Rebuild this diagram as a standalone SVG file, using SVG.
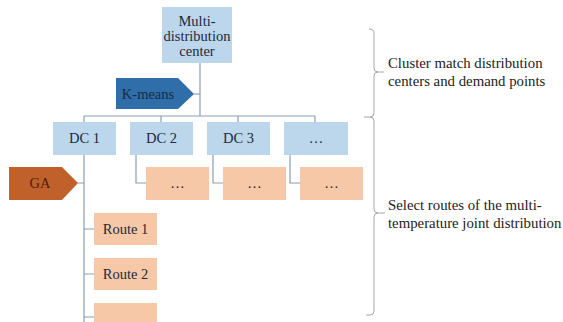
<svg xmlns="http://www.w3.org/2000/svg" width="563" height="322" viewBox="0 0 563 322">
<style>
.blue{fill:#bcd6ec}
.org{fill:#f7c8a8}
.t{font-family:'Liberation Serif','Times New Roman','DejaVu Serif',serif;font-size:14.5px;fill:#1c2a3a;text-anchor:middle}
.lbl{font-family:'Liberation Serif','Times New Roman','DejaVu Serif',serif;font-size:14.8px;fill:#222}
.c{fill:none;stroke:#8a9fb4;stroke-width:1.2}
.b{fill:none;stroke:#a8a8a8;stroke-width:1}
</style>
<rect width="563" height="322" fill="#ffffff"/>
<g id="connectors">
<path class="c" d="M200 63V116M84 116H315M84 116V122M161 116V122M238 116V122M315 116V122"/>
<path class="c" d="M194 94H200"/>
<path class="c" d="M136 155V183H146M213 155V183H223M290 155V183H300"/>
<path class="c" d="M84 155V322M78 183H84M84 229H94M84 274H94M84 317H94"/>
</g>
<g id="braces">
<path class="b" d="M369 29Q374 29 374 33V68Q374 72 378 72H384M378 72Q374 72 374 76V113Q374 117 370 117H364"/>
<path class="b" d="M370 117Q374 117 374 121V209Q374 213 378 213H385M378 213Q374 213 374 217V311Q374 315 370 315H366"/>
</g>
<g id="n_multi">
<rect class="blue" x="162" y="7" width="70" height="56"/>
<text class="t" x="197" y="26">Multi-</text>
<text class="t" x="197" y="41">distribution</text>
<text class="t" x="197" y="56">center</text>
</g>
<g id="n_kmeans">
<polygon points="116,78 178,78 194,94 178,109 116,109" fill="#2f6ea8"/>
<text class="t" x="148" y="99" style="fill:#1a2a44">K-means</text>
</g>
<g id="n_dc1"><rect class="blue" x="53" y="122" width="63" height="33"/><text class="t" x="84.5" y="143">DC 1</text></g>
<g id="n_dc2"><rect class="blue" x="130" y="122" width="63" height="33"/><text class="t" x="161.5" y="143">DC 2</text></g>
<g id="n_dc3"><rect class="blue" x="207" y="122" width="63" height="33"/><text class="t" x="238.5" y="143">DC 3</text></g>
<g id="n_dc4"><rect class="blue" x="284" y="122" width="64" height="33"/><text class="t" x="316" y="143">…</text></g>
<g id="n_ga">
<polygon points="9,167 62,167 78,183 62,200 9,200" fill="#c0602a"/>
<text class="t" x="40" y="188" style="fill:#4a2010">GA</text>
</g>
<g id="n_o2"><rect class="org" x="146" y="167" width="63" height="33"/><text class="t" x="177.5" y="188">…</text></g>
<g id="n_o3"><rect class="org" x="223" y="167" width="63" height="33"/><text class="t" x="254.5" y="188">…</text></g>
<g id="n_o4"><rect class="org" x="300" y="167" width="63" height="33"/><text class="t" x="331.5" y="188">…</text></g>
<g id="n_route1"><rect class="org" x="94" y="213" width="63" height="32"/><text class="t" x="125.5" y="234">Route 1</text></g>
<g id="n_route2"><rect class="org" x="94" y="258" width="63" height="32"/><text class="t" x="125.5" y="279">Route 2</text></g>
<g id="n_route3"><rect class="org" x="94" y="303" width="63" height="32"/></g>
<g id="labels">
<text class="lbl" x="388" y="68">Cluster match distribution</text>
<text class="lbl" x="388" y="86">centers and demand points</text>
<text class="lbl" x="388" y="210">Select routes of the multi-</text>
<text class="lbl" x="388" y="228">temperature joint distribution</text>
</g>
</svg>
